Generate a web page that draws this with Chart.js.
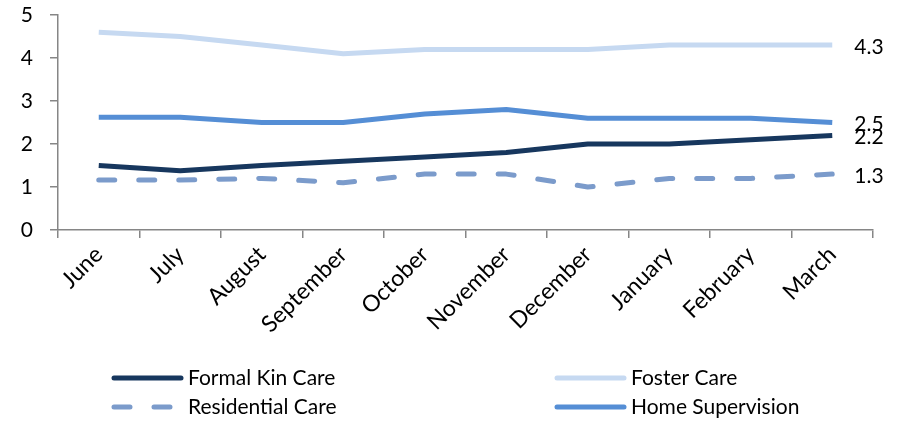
<!DOCTYPE html>
<html>
<head>
<meta charset="utf-8">
<script src="https://cdn.jsdelivr.net/npm/chart.js@4"></script>
<style>
  html, body { margin: 0; padding: 0; background: #fff; }
  #wrap { width: 903px; height: 422px; }
</style>
</head>
<body>
<div id="wrap"><canvas id="chart" width="903" height="422"></canvas></div>
<script>
// Monthly placement counts by care type
const months = ['June', 'July', 'August', 'September', 'October', 'November', 'December', 'January', 'February', 'March'];
const formalKinCare = [1.5, 1.38, 1.5, 1.6, 1.7, 1.8, 2.0, 2.0, 2.1, 2.2];
const fosterCare = [4.6, 4.5, 4.3, 4.1, 4.2, 4.2, 4.2, 4.3, 4.3, 4.3];
const residentialCare = [1.16, 1.16, 1.2, 1.1, 1.3, 1.3, 1.0, 1.2, 1.2, 1.3];
const homeSupervision = [2.62, 2.62, 2.5, 2.5, 2.7, 2.8, 2.6, 2.6, 2.6, 2.5];
const yTicks = [0, 1, 2, 3, 4, 5];

const FONT = 'Lato, "Open Sans", sans-serif';
const AXIS = '#868686';

// Value label beside the last point of each series
const endLabels = {
  id: 'endLabels',
  afterDatasetsDraw(chart) {
    const ctx = chart.ctx;
    ctx.save();
    ctx.font = '21px ' + FONT;
    ctx.fillStyle = '#000';
    ctx.textAlign = 'left';
    ctx.textBaseline = 'middle';
    chart.data.datasets.forEach((ds, i) => {
      const meta = chart.getDatasetMeta(i);
      const last = ds.data.length - 1;
      const pt = meta.data[last];
      ctx.fillText(ds.data[last].toFixed(1), pt.x + 22, pt.y + 2);
    });
    ctx.restore();
  }
};

// Two-column legend below the axis labels
const legendBlock = {
  id: 'legendBlock',
  afterDraw(chart) {
    const ctx = chart.ctx;
    const slots = [
      { i: 0, x: 112, y: 378 },
      { i: 1, x: 555, y: 378 },
      { i: 2, x: 112, y: 407 },
      { i: 3, x: 555, y: 407 }
    ];
    ctx.save();
    slots.forEach(s => {
      const ds = chart.data.datasets[s.i];
      ctx.beginPath();
      ctx.strokeStyle = ds.borderColor;
      ctx.lineWidth = ds.borderWidth;
      ctx.lineCap = 'round';
      ctx.setLineDash(ds.borderDash || []);
      ctx.moveTo(s.x + 2, s.y);
      ctx.lineTo(s.x + 69, s.y);
      ctx.stroke();
      ctx.setLineDash([]);
      ctx.fillStyle = '#000';
      ctx.font = '21px ' + FONT;
      ctx.textAlign = 'left';
      ctx.textBaseline = 'middle';
      ctx.fillText(ds.label, s.x + 76, s.y);
    });
    ctx.restore();
  }
};

const lineStyle = { borderWidth: 5, pointRadius: 0, tension: 0, fill: false, borderJoinStyle: 'round' };

new Chart(document.getElementById('chart'), {
  type: 'line',
  data: {
    labels: months,
    datasets: [
      { label: 'Formal Kin Care', data: formalKinCare, borderColor: '#17375e', ...lineStyle },
      { label: 'Foster Care', data: fosterCare, borderColor: '#c6d9f1', ...lineStyle },
      { label: 'Residential Care', data: residentialCare, borderColor: '#7b9bcb', borderDash: [16, 24], borderCapStyle: 'round', ...lineStyle },
      { label: 'Home Supervision', data: homeSupervision, borderColor: '#558ed5', ...lineStyle }
    ]
  },
  options: {
    responsive: false,
    animation: false,
    layout: { autoPadding: false, padding: { top: 15, right: 30, bottom: 0, left: 0 } },
    plugins: { legend: { display: false }, tooltip: { enabled: false } },
    scales: {
      x: {
        offset: true,
        afterFit(scale) { scale.height = 192; },
        grid: { drawOnChartArea: false, color: AXIS, lineWidth: 1.5, tickLength: 8, offset: true },
        border: { color: AXIS, width: 1.5 },
        ticks: { color: '#000', font: { family: FONT, size: 23 }, minRotation: 45, maxRotation: 45, padding: 3, autoSkip: false }
      },
      y: {
        min: 0,
        max: 5,
        afterFit(scale) { scale.width = 58; scale.paddingTop = 0; scale.paddingBottom = 0; },
        afterBuildTicks(scale) { scale.ticks = yTicks.map(v => ({ value: v })); },
        grid: { drawOnChartArea: false, color: AXIS, lineWidth: 1.5, tickLength: 8 },
        border: { color: AXIS, width: 1.5 },
        ticks: { color: '#000', font: { family: FONT, size: 21 }, padding: 17 }
      }
    }
  },
  plugins: [endLabels, legendBlock]
});
</script>
</body>
</html>
